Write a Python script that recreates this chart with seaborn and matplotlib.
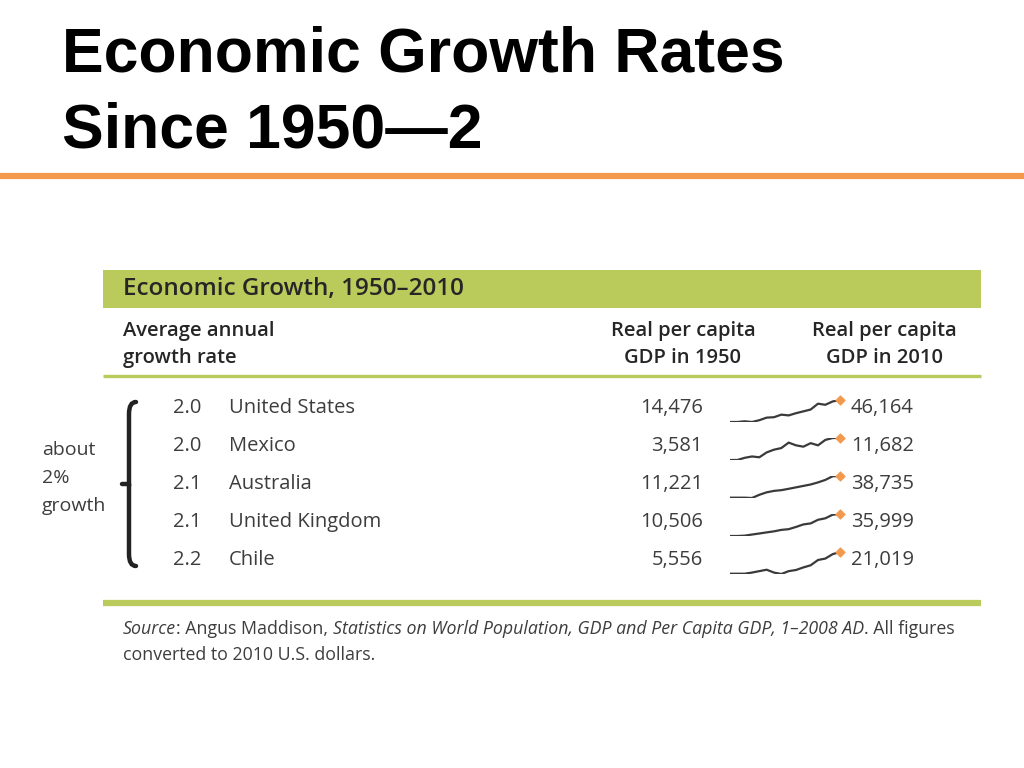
import numpy as np
import pandas as pd
import matplotlib.pyplot as plt
import seaborn as sns
from matplotlib.patches import Rectangle, PathPatch
from matplotlib.path import Path

sns.set_theme(style="white")
plt.rcParams["font.family"] = ["Open Sans", "DejaVu Sans"]

# table data
countries = ["United States", "Mexico", "Australia", "United Kingdom", "Chile"]
growth = [2.0, 2.0, 2.1, 2.1, 2.2]
gdp_1950 = [14476, 3581, 11221, 10506, 5556]
gdp_2010 = [46164, 11682, 38735, 35999, 21019]

# sparkline paths, per capita GDP in thousands
years = [1950, 1954, 1958, 1962, 1966, 1970, 1974, 1978, 1982, 1986, 1990,
         1994, 1998, 2002, 2006, 2010]
spark_us = [14.5, 14.5, 15.5, 14.5, 17.1, 20.8, 21.4, 25.1, 24.0, 27.2, 29.8,
            32.5, 40.9, 39.3, 44.1, 46.2]
spark_mx = [3.6, 3.6, 4.4, 4.9, 4.6, 6.4, 7.4, 8.0, 10.0, 9.0, 8.5,
            9.8, 9.0, 11.0, 11.7, 11.7]
spark_au = [11.6, 11.6, 11.6, 11.2, 15.2, 18.3, 20.1, 21.0, 22.7, 24.5, 26.3,
            28.1, 30.7, 33.8, 38.4, 38.7]
spark_uk = [10.5, 10.5, 10.9, 12.2, 13.4, 14.7, 15.9, 17.6, 18.4, 21.0, 23.9,
            25.1, 29.3, 31.0, 35.2, 36.0]
spark_cl = [5.8, 5.8, 5.8, 6.6, 7.6, 8.6, 6.6, 5.6, 7.6, 8.4, 10.2,
            11.7, 15.4, 16.4, 19.5, 21.0]
sparks = [spark_us, spark_mx, spark_au, spark_uk, spark_cl]

green = "#BACB5C"
orange = "#F2994E"
dark = "#262626"
grey = "#3d3d3d"

W, H = 1024, 768
fig = plt.figure(figsize=(W / 100, H / 100), dpi=100)
ax = fig.add_axes([0, 0, 1, 1])
ax.set_xlim(0, W)
ax.set_ylim(H, 0)
ax.axis("off")

# slide title
ax.text(62, 72, "Economic Growth Rates", fontsize=45, fontweight="bold",
        family=["Liberation Sans", "DejaVu Sans"], color="black", va="baseline")
ax.text(62, 147, "Since 1950\u20142", fontsize=45, fontweight="bold",
        family=["Liberation Sans", "DejaVu Sans"], color="black", va="baseline")
ax.plot([0, W], [176, 176], color=orange, lw=4.5, solid_capstyle="butt")

# table header band
ax.add_patch(Rectangle((103, 270), 878, 38, color=green, lw=0))
ax.text(123, 289, "Economic Growth, 1950\u20132010", fontsize=17.5,
        fontweight="semibold", color=dark, va="center")

ax.text(123, 331, "Average annual", fontsize=14.5, fontweight="semibold",
        color=dark, va="center")
ax.text(123, 358, "growth rate", fontsize=14.5, fontweight="semibold",
        color=dark, va="center")
for xc, yr in [(683, 1950), (884, 2010)]:
    ax.text(xc, 331, "Real per capita", fontsize=14.5, fontweight="semibold",
            color=dark, va="center", ha="center")
    ax.text(xc, 358, f"GDP in {yr}", fontsize=14.5, fontweight="semibold",
            color=dark, va="center", ha="center")
ax.plot([103, 981], [376, 376], color=green, lw=2.4, solid_capstyle="butt")

# rows
for i, (c, g, a, b, s) in enumerate(zip(countries, growth, gdp_1950, gdp_2010, sparks)):
    yc = 408 + 38 * i
    ax.text(173, yc, f"{g:.1f}", fontsize=14.5, color=grey, va="center")
    ax.text(229, yc, c, fontsize=14.5, color=grey, va="center")
    ax.text(703, yc, f"{a:,}", fontsize=14.5, color=grey, va="center", ha="right")
    ax.text(851, yc, f"{b:,}", fontsize=14.5, color=grey, va="center", ha="left")

    top, bot = yc - 8, yc + 14
    iax = fig.add_axes([730 / W, 1 - bot / H, 110 / W, (bot - top) / H])
    df = pd.DataFrame({"year": years, "gdp": s})
    sns.lineplot(data=df, x="year", y="gdp", ax=iax, color="#3a3a3a", lw=1.6)
    iax.scatter([years[-1]], [s[-1]], color=orange, s=20, zorder=3, marker="D",
                clip_on=False)
    iax.set_xlim(years[0], years[-1])
    iax.set_ylim(min(s), max(s))
    iax.axis("off")

# brace and note
vb = [(136, 402), (129, 402), (129, 414), (129, 472), (129, 478),
      (129, 484), (122, 484), (129, 484), (129, 490), (129, 496),
      (129, 554), (129, 566), (136, 566)]
codes = [Path.MOVETO, Path.CURVE3, Path.CURVE3, Path.LINETO, Path.CURVE3,
         Path.CURVE3, Path.LINETO, Path.MOVETO, Path.CURVE3, Path.CURVE3,
         Path.LINETO, Path.CURVE3, Path.CURVE3]
ax.add_patch(PathPatch(Path(vb, codes), fill=False, lw=3.2, color="#222222",
                       capstyle="round"))
for j, t in enumerate(["about", "2%", "growth"]):
    ax.text(42, 450 + 28 * j, t, fontsize=14, color=grey, va="center")

# bottom rule and source
ax.plot([103, 981], [603, 603], color=green, lw=4.5, solid_capstyle="butt")
parts = [("Source", "italic"), (": Angus Maddison, ", "normal"),
         ("Statistics on World Population, GDP and Per Capita GDP, 1\u20132008 AD", "italic"),
         (". All figures", "normal")]
prev = ax.text(123, 629, parts[0][0], fontsize=12.8, style=parts[0][1],
               color=grey, va="center")
for txt, st in parts[1:]:
    prev = ax.annotate(txt, xy=(1, 0.5), xycoords=prev, fontsize=12.8, style=st,
                       color=grey, va="center", ha="left")
ax.text(123, 655, "converted to 2010 U.S. dollars.", fontsize=12.8, color=grey,
        va="center")

fig.savefig("out.png", dpi=100)
